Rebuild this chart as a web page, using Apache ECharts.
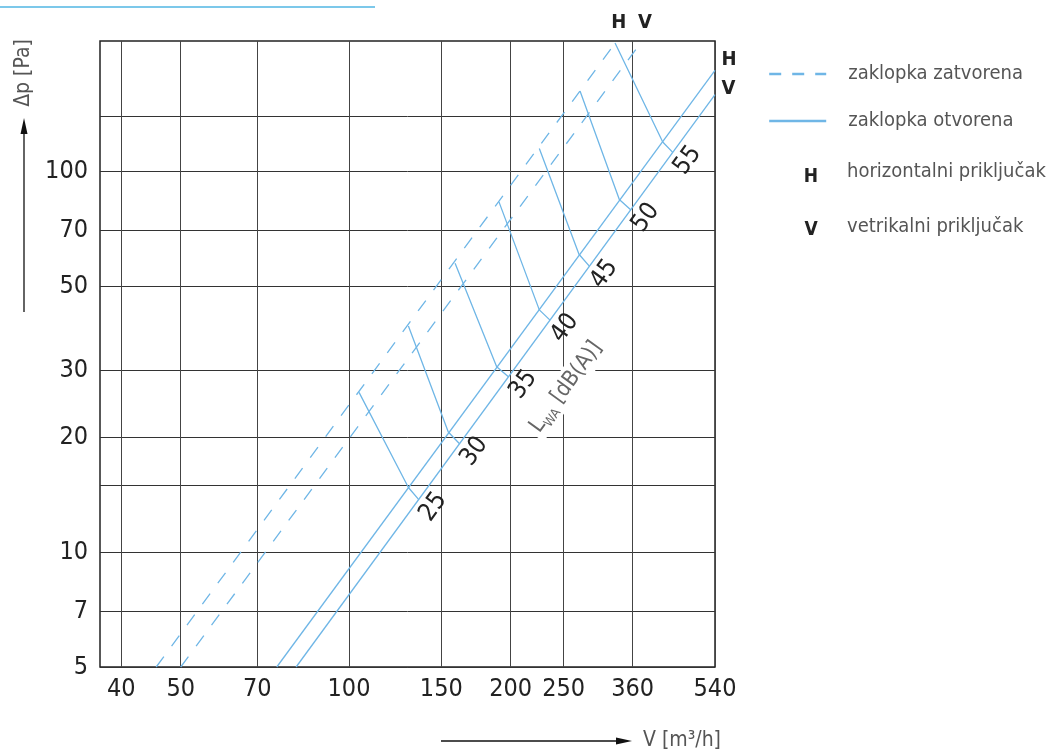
<!DOCTYPE html>
<html><head><meta charset="utf-8">
<script src="https://cdn.jsdelivr.net/npm/echarts@6/dist/echarts.min.js"></script>
<style>html,body{margin:0;padding:0;background:#fff;}#c{width:1058px;height:755px;}</style>
</head><body><div id="c"></div>
<script>
// ---------------- data ----------------
const xTickLabels = [40, 50, 70, 100, 150, 200, 250, 360, 540];      // V [m3/h]
const yGridValues = [5, 7, 10, 15, 20, 30, 50, 70, 100, 140];         // Δp gridlines [Pa]
const yTickLabels = [5, 7, 10, 20, 30, 50, 70, 100];
const yMaxValue = 220;

// zaklopka zatvorena (dashed)
const closedH = [[45.6, 5], [330.9, 220]];
const closedV = [[50, 5], [376.9, 220]];
// zaklopka otvorena (solid)
const openH = [[75.5, 5], [540, 184.3]];
const openV = [[81.4, 5], [540, 159.2]];

// L_WA [dB(A)] lines: start (on closed H) -> knee (on open H) -> end (on open V)
const lwaLevels = [25, 30, 35, 40, 45, 50, 55];
const lwaStart = [[104.5, 26.3], [129.8, 39.3], [158.8, 57.4], [190.5, 83.2], [225.6, 114.8], [272.5, 162.6], [327.9, 217.3]];
const lwaKnee  = [[129.8, 14.8], [154.4, 20.7], [188.7, 30.7], [225.6, 43.3], [271.0, 60.6], [335.4, 84.4], [417.4, 119.5]];
const lwaEnd   = [[135.6, 13.8], [161.6, 19.3], [198.1, 28.9], [236.0, 40.7], [286.2, 56.4], [356.1, 79.3], [438.5, 112.2]];

// ---------------- axis scale (non-uniform log axis of the original) ----------------
// relative position of each x tick along the axis (0 = left border, 1 = right border)
const xStops = [0.0346, 0.1312, 0.2558, 0.4049, 0.5550, 0.6678, 0.7540, 0.8662, 1.0];
const xLog = xTickLabels.map(Math.log10);
function xPos(v) {
  const L = Math.log10(v);
  let i = 0;
  if (L >= xLog[xLog.length - 1]) i = xLog.length - 2;
  else if (L > xLog[0]) { while (L > xLog[i + 1]) i++; }
  const f = (L - xLog[i]) / (xLog[i + 1] - xLog[i]);
  return xStops[i] + f * (xStops[i + 1] - xStops[i]);
}
const toXY = p => [xPos(p[0]), Math.log10(p[1])];

const FONT = "'Liberation Sans Narrow', 'Arial Narrow', 'DejaVu Sans Condensed', Roboto, sans-serif";
const BLUE = '#6fb6e6';
const DARK = '#222';
const GREY = '#555';

function endItem(p, text, lbl) {
  return {
    value: toXY(p),
    symbol: 'circle', symbolSize: 1,
    label: Object.assign({ show: true, formatter: text, fontFamily: FONT, color: DARK }, lbl)
  };
}

function mainLine(name, pts, dashed, tag, lbl) {
  return {
    type: 'line', name: name, silent: true,
    symbol: 'none', showSymbol: true,
    lineStyle: { color: BLUE, width: 1.3, type: dashed ? [13, 13] : 'solid' },
    itemStyle: { color: 'rgba(0,0,0,0)' },
    emphasis: { disabled: true },
    data: [toXY(pts[0]), endItem(pts[1], tag, Object.assign({ fontSize: 20, fontWeight: 'bold' }, lbl))],
    z: 3
  };
}

const series = [
  mainLine('zaklopka zatvorena', closedH, true, 'H', { position: 'top', distance: 8, offset: [2, 0] }),
  mainLine('zaklopka zatvorena', closedV, true, 'V', { position: 'top', distance: 8, offset: [3, 0] }),
  mainLine('zaklopka otvorena', openH, false, 'H', { position: 'right', distance: 6, offset: [0, -10] }),
  mainLine('zaklopka otvorena', openV, false, 'V', { position: 'right', distance: 6, offset: [0, -6] })
];

lwaLevels.forEach((lv, i) => {
  series.push({
    type: 'line', name: 'LWA ' + lv, silent: true,
    symbol: 'none', showSymbol: true,
    lineStyle: { color: BLUE, width: 1.3 },
    itemStyle: { color: 'rgba(0,0,0,0)' },
    emphasis: { disabled: true },
    data: [toXY(lwaStart[i]), toXY(lwaKnee[i]),
      endItem(lwaEnd[i], String(lv), { position: 'inside', rotate: 54, offset: [2.4, 16.8], fontSize: 25 })],
    z: 3
  });
});

const chart = echarts.init(document.getElementById('c'), null, { renderer: 'canvas' });
chart.setOption({
  animation: false,
  backgroundColor: '#fff',
  grid: { left: 100, right: 343, top: 41, bottom: 88, show: true, borderColor: '#222', borderWidth: 1.5, containLabel: false },
  xAxis: {
    type: 'value', min: 0, max: 1,
    axisLine: { show: false },
    axisTick: { show: false, customValues: xStops },
    splitLine: { show: true, lineStyle: { color: '#444', width: 1 } },
    axisLabel: {
      customValues: xStops, margin: 10, fontSize: 25, fontFamily: FONT, color: DARK,
      formatter: v => { const i = xStops.findIndex(s => Math.abs(s - v) < 1e-4); return i >= 0 ? String(xTickLabels[i]) : ''; }
    }
  },
  yAxis: {
    type: 'value', min: Math.log10(yGridValues[0]), max: Math.log10(yMaxValue),
    axisLine: { show: false },
    axisTick: { show: false, customValues: yGridValues.map(Math.log10) },
    splitLine: { show: true, lineStyle: { color: '#333', width: 1 } },
    axisLabel: {
      customValues: yTickLabels.map(Math.log10), margin: 12, fontSize: 25, fontFamily: FONT, color: DARK,
      formatter: v => String(Math.round(Math.pow(10, v)))
    }
  },
  legend: {
    orient: 'vertical', left: 763, top: 57, itemWidth: 57, itemHeight: 14, itemGap: 23,
    selectedMode: false,
    textStyle: { fontFamily: FONT, fontSize: 20, color: GREY, padding: [0, 0, 0, 17], lineHeight: 24 },
    data: [
      { name: 'zaklopka zatvorena', lineStyle: { type: [12, 11], width: 2.4, color: BLUE } },
      { name: 'zaklopka otvorena', lineStyle: { type: 'solid', width: 2.4, color: BLUE } }
    ]
  },
  graphic: [
    { type: 'line', shape: { x1: 0, y1: 7, x2: 375, y2: 7 }, style: { stroke: '#7cc8ea', lineWidth: 2 }, z: 10 },
    { type: 'text', x: 24, y: 73, rotation: Math.PI / 2,
      style: { text: 'Δp [Pa]', font: '21px ' + FONT, fill: GREY, align: 'center', verticalAlign: 'middle' }, z: 10 },
    { type: 'line', shape: { x1: 24, y1: 312, x2: 24, y2: 130 }, style: { stroke: '#111', lineWidth: 1.3 }, z: 10 },
    { type: 'polygon', shape: { points: [[24, 118], [20.5, 134], [27.5, 134]] }, style: { fill: '#111' }, z: 10 },
    { type: 'line', shape: { x1: 441, y1: 741, x2: 620, y2: 741 }, style: { stroke: '#111', lineWidth: 1.3 }, z: 10 },
    { type: 'polygon', shape: { points: [[632, 741], [616, 737.5], [616, 744.5]] }, style: { fill: '#111' }, z: 10 },
    { type: 'text', x: 643, y: 741,
      style: { text: 'V [m³/h]', font: '21px ' + FONT, fill: GREY, align: 'left', verticalAlign: 'middle' }, z: 10 },
    { type: 'text', x: 566, y: 387, rotation: 54 * Math.PI / 180, z: 1,
      style: {
        text: '{l|L}{s|WA}{n| [dB(A)]}', align: 'center', verticalAlign: 'middle',
        backgroundColor: '#fff', padding: [0, 4],
        rich: {
          l: { fontFamily: FONT, fontSize: 22, fill: '#666', lineHeight: 28 },
          s: { fontFamily: FONT, fontSize: 13, fill: '#666', lineHeight: 13, verticalAlign: 'bottom' },
          n: { fontFamily: FONT, fontSize: 22, fill: '#666', lineHeight: 28 }
        }
      }
    },
    { type: 'text', x: 811, y: 177, style: { text: 'H', font: 'bold 19px ' + FONT, fill: DARK, align: 'center', verticalAlign: 'middle' }, z: 10 },
    { type: 'text', x: 847, y: 172, style: { text: 'horizontalni priključak', font: '20px ' + FONT, fill: GREY, align: 'left', verticalAlign: 'middle' }, z: 10 },
    { type: 'text', x: 811, y: 230, style: { text: 'V', font: 'bold 19px ' + FONT, fill: DARK, align: 'center', verticalAlign: 'middle' }, z: 10 },
    { type: 'text', x: 847, y: 227, style: { text: 'vetrikalni priključak', font: '20px ' + FONT, fill: GREY, align: 'left', verticalAlign: 'middle' }, z: 10 }
  ],
  series: series
});
</script></body></html>
